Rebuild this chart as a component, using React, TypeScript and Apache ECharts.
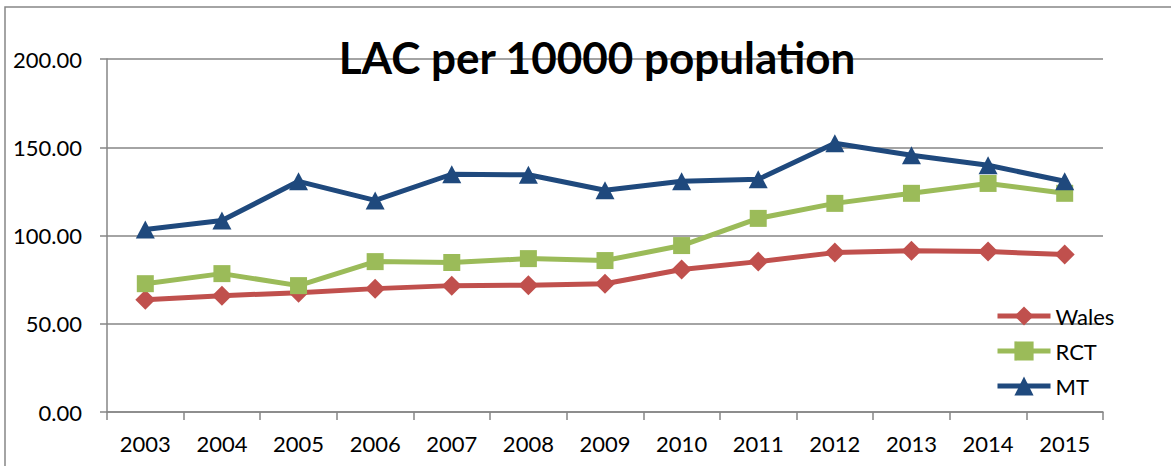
import React, { useEffect, useRef } from "react";
import * as echarts from "echarts";

const years = ["2003", "2004", "2005", "2006", "2007", "2008", "2009", "2010", "2011", "2012", "2013", "2014", "2015"];
const wales = [63.6, 65.9, 67.6, 69.9, 71.6, 71.8, 72.7, 80.7, 85.2, 90.3, 91.3, 90.9, 89.2];
const rct = [72.7, 78.4, 71.6, 85.2, 84.7, 86.9, 85.8, 94.3, 109.7, 118.2, 123.9, 129.5, 123.9];
const mt = [103.4, 108.5, 130.7, 119.9, 134.7, 134.4, 125.6, 130.7, 131.8, 152.3, 145.5, 139.8, 130.7];

const GRAY = "#868686";
const FONT = "Lato";

export default function App() {
  const ref = useRef<HTMLDivElement>(null);
  useEffect(() => {
    if (!ref.current) return;
    const chart = echarts.init(ref.current, undefined, { renderer: "svg" });
    const mk = (name: string, data: number[], color: string, symbol: string, size: number | number[]) => ({
      name,
      type: "line",
      data,
      symbol,
      symbolSize: size,
      showAllSymbol: true,
      lineStyle: { color, width: 5 },
      itemStyle: { color, borderWidth: 0 },
      z: 3,
    });
    chart.setOption({
      animation: false,
      backgroundColor: "#ffffff",
      title: {
        text: "LAC per 10000 population",
        left: 592,
        textAlign: "center",
        top: 30,
        textStyle: { fontFamily: FONT, fontWeight: "bold", fontSize: 44, color: "#000" },
        z: 10,
      },
      graphic: [
        {
          type: "rect",
          shape: { x: 5, y: 7, width: 1300, height: 600 },
          style: { fill: "none", stroke: GRAY, lineWidth: 1.5 },
          silent: true,
          z: -1,
        },
      ],
      grid: { left: 107, right: 68, top: 59, bottom: 54, containLabel: false },
      legend: {
        orient: "vertical",
        left: 990,
        top: 300,
        itemWidth: 53,
        itemHeight: 24,
        itemGap: 13,
        lineStyle: { width: 5 },
        textStyle: { fontFamily: FONT, fontSize: 22, color: "#000", padding: [0, 0, 0, 0] },
        data: ["Wales", "RCT", "MT"],
      },
      xAxis: {
        type: "category",
        data: years,
        boundaryGap: true,
        axisLine: { lineStyle: { color: GRAY, width: 1.5 } },
        axisTick: { show: true, length: 8, lineStyle: { color: GRAY, width: 1.5 } },
        axisLabel: { fontFamily: FONT, fontSize: 22, color: "#000", margin: 20 },
        splitLine: { show: false },
      },
      yAxis: {
        type: "value",
        min: 0,
        max: 200,
        interval: 50,
        axisLine: { show: true, lineStyle: { color: GRAY, width: 1.5 } },
        axisTick: { show: true, length: 7, lineStyle: { color: GRAY, width: 1.5 } },
        axisLabel: {
          fontFamily: FONT,
          fontSize: 22,
          color: "#000",
          margin: 25,
          formatter: (v: number) => v.toFixed(2),
        },
        splitLine: { show: true, lineStyle: { color: GRAY, width: 1.5 } },
      },
      series: [
        mk("Wales", wales, "#C0504D", "diamond", 20),
        mk("RCT", rct, "#9BBB59", "rect", 17),
        mk("MT", mt, "#1F497D", "triangle", [19, 18]),
      ],
    });
    return () => chart.dispose();
  }, []);
  return (
    <div
      ref={ref}
      style={{ position: "absolute", left: 0, top: 0, width: 1171, height: 466 }}
    />
  );
}
